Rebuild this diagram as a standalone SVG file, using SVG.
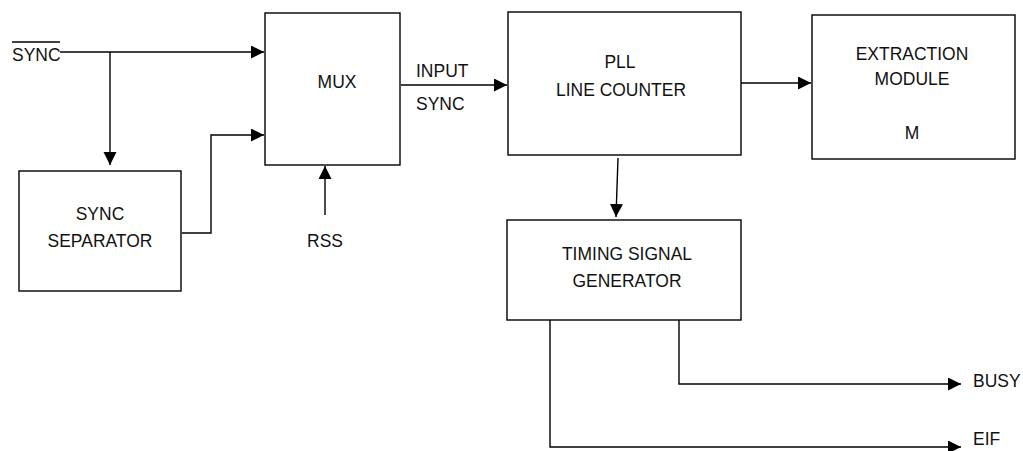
<svg xmlns="http://www.w3.org/2000/svg" width="1023" height="451" viewBox="0 0 1023 451">
<style>
.box{fill:#fff;stroke:#000;stroke-width:1.4}
.ln{fill:none;stroke:#000;stroke-width:1.4}
text{font-family:"Liberation Sans",Arial,sans-serif;font-size:19px;fill:#111}
.c{text-anchor:middle}
</style>
<defs>
<marker id="arr" markerUnits="userSpaceOnUse" markerWidth="14" markerHeight="14" refX="13" refY="6.5" orient="auto">
<path d="M0,0 L13,6.5 L0,13 Z" fill="#000"/>
</marker>
</defs>
<rect width="1023" height="451" fill="#fff"/>
<g id="connectors">
<path class="ln" d="M60,52 H264" marker-end="url(#arr)"/>
<path class="ln" d="M110,52 V165" marker-end="url(#arr)"/>
<path class="ln" d="M182,233 H211 V135 H264" marker-end="url(#arr)"/>
<path class="ln" d="M325,215 V166" marker-end="url(#arr)"/>
<path class="ln" d="M401,85 H507" marker-end="url(#arr)"/>
<path class="ln" d="M741,83 H811" marker-end="url(#arr)"/>
<path class="ln" d="M618,158 L616,217" marker-end="url(#arr)"/>
<path class="ln" d="M679,320 V384 H961" marker-end="url(#arr)"/>
<path class="ln" d="M550,320 V447 H961" marker-end="url(#arr)"/>
</g>
<g id="sync-in">
<text transform="translate(12,61) scale(0.92,1)">SYNC</text>
<line x1="12" y1="42" x2="60" y2="42" stroke="#000" stroke-width="1.4"/>
</g>
<g id="mux">
<rect class="box" x="265" y="13" width="135" height="152"/>
<text class="c" transform="translate(337,88) scale(0.92,1)">MUX</text>
</g>
<g id="sync-separator">
<rect class="box" x="19" y="171" width="162" height="120"/>
<text class="c" transform="translate(100,220) scale(0.92,1)">SYNC</text>
<text class="c" transform="translate(100,247) scale(0.92,1)">SEPARATOR</text>
</g>
<g id="rss">
<text class="c" transform="translate(325,247) scale(0.92,1)">RSS</text>
</g>
<g id="input-sync">
<text transform="translate(416,77) scale(0.92,1)">INPUT</text>
<text transform="translate(416,110) scale(0.92,1)">SYNC</text>
</g>
<g id="pll">
<rect class="box" x="508" y="12" width="233" height="143"/>
<text class="c" transform="translate(620,68) scale(0.92,1)">PLL</text>
<text class="c" transform="translate(621,96) scale(0.92,1)">LINE COUNTER</text>
</g>
<g id="extraction">
<rect class="box" x="812" y="15" width="203" height="144"/>
<text class="c" transform="translate(912,60) scale(0.92,1)">EXTRACTION</text>
<text class="c" transform="translate(912,85) scale(0.92,1)">MODULE</text>
<text class="c" transform="translate(912,139) scale(0.92,1)">M</text>
</g>
<g id="timing">
<rect class="box" x="507" y="220" width="234" height="100"/>
<text class="c" transform="translate(627,260) scale(0.92,1)">TIMING SIGNAL</text>
<text class="c" transform="translate(627,287) scale(0.92,1)">GENERATOR</text>
</g>
<g id="busy"><text transform="translate(973,387) scale(0.92,1)">BUSY</text></g>
<g id="eif"><text transform="translate(973,445) scale(0.92,1)">EIF</text></g>
</svg>
